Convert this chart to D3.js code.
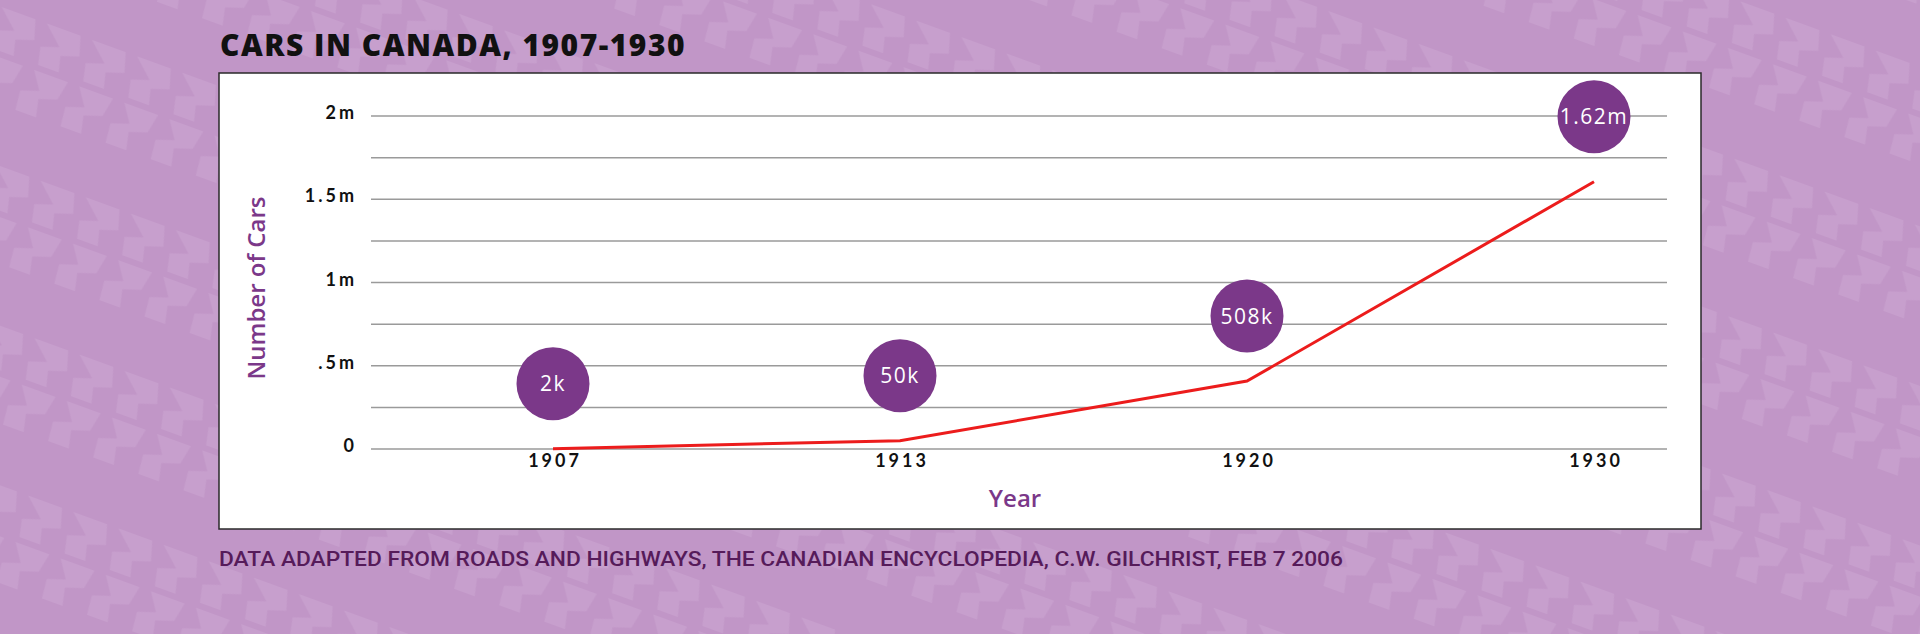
<!DOCTYPE html>
<html>
<head>
<meta charset="utf-8">
<script src="https://cdn.jsdelivr.net/npm/d3@7"></script>
<style>
  html, body { margin: 0; padding: 0; background: #c39acb; }
  svg { display: block; }
</style>
</head>
<body>
<script>
// ---- data ----
const years = ["1907", "1913", "1920", "1930"];
const cars = [2000, 50000, 408000, 1605000];
const bubbleLabels = ["2k", "50k", "508k", "1.62m"];
const yTickValues = [0, 500000, 1000000, 1500000, 2000000];
const yTickLabels = ["0", ".5m", "1m", "1.5m", "2m"];
const gridValues = [0, 250000, 500000, 750000, 1000000, 1250000, 1500000, 1750000, 2000000];
const titleText = "CARS IN CANADA, 1907-1930";
const captionText = "DATA ADAPTED FROM ROADS AND HIGHWAYS, THE CANADIAN ENCYCLOPEDIA, C.W. GILCHRIST, FEB 7 2006";

// ---- layout ----
const W = 1920, H = 634;
const panel = { x: 219, y: 73, w: 1482, h: 456 };
const grid = { x0: 371, x1: 1667 };
const purple = "#7b3889";

const svg = d3.select("body").append("svg").attr("width", W).attr("height", H);
const defs = svg.append("defs");

// background tread pattern
const pat = defs.append("pattern").attr("id", "tread")
  .attr("patternUnits", "userSpaceOnUse")
  .attr("width", 48).attr("height", 150)
  .attr("patternTransform", "rotate(20)");
pat.append("rect").attr("width", 48).attr("height", 150).attr("fill", "#c196c7");
pat.append("path").attr("d", "M4,6 L40,6 L46,26 L28,32 L32,48 L10,48 L6,30 L24,24 Z").attr("fill", "#c79fcd");
pat.append("path").attr("d", "M8,54 L44,54 L40,74 L22,80 L26,98 L4,98 L2,78 L20,72 Z").attr("fill", "#c79fcd");
svg.append("rect").attr("width", W).attr("height", H).attr("fill", "url(#tread)");

// title
svg.append("text")
  .attr("x", 220).attr("y", 56)
  .attr("font-family", "'Open Sans', 'Noto Sans', sans-serif")
  .attr("font-weight", 800).attr("font-size", 30)
  .attr("letter-spacing", "1.5px")
  .attr("textLength", 466).attr("lengthAdjust", "spacingAndGlyphs")
  .attr("fill", "#111")
  .text(titleText);

// panel
svg.append("rect")
  .attr("x", panel.x).attr("y", panel.y).attr("width", panel.w).attr("height", panel.h)
  .attr("fill", "#fff").attr("stroke", "#2a2a2a").attr("stroke-width", 1.5);

// scales
const y = d3.scaleLinear().domain([0, 2000000]).range([449, 116]);
const x = d3.scalePoint().domain(years).range([553, 1594]);

// gridlines
svg.append("g").selectAll("line").data(gridValues).join("line")
  .attr("x1", grid.x0).attr("x2", grid.x1)
  .attr("y1", d => y(d)).attr("y2", d => y(d))
  .attr("stroke", "#9a9a9a").attr("stroke-width", 1.5);

// y axis labels
const yAxis = d3.axisLeft(y).tickValues(yTickValues)
  .tickFormat((d, i) => yTickLabels[i]).tickSize(0).tickPadding(0);
const yg = svg.append("g").attr("transform", "translate(357,0)").call(yAxis);
yg.select(".domain").remove();
yg.selectAll("text")
  .attr("font-family", "Lato, 'Open Sans', sans-serif")
  .attr("font-weight", 700).attr("font-size", 18)
  .attr("letter-spacing", "3px")
  .attr("fill", "#111").attr("dy", "0.15em");

// x axis labels
const xAxis = d3.axisBottom(x).tickSize(0).tickPadding(0);
const xg = svg.append("g").attr("transform", "translate(0,449)").call(xAxis);
xg.select(".domain").remove();
xg.selectAll("text")
  .attr("font-family", "Lato, 'Open Sans', sans-serif")
  .attr("font-weight", 700).attr("font-size", 18)
  .attr("letter-spacing", "3px")
  .attr("fill", "#111").attr("dy", null).attr("y", 18)
  .attr("dx", "1.5px");

// axis titles
svg.append("text")
  .attr("x", 1015).attr("y", 507)
  .attr("text-anchor", "middle")
  .attr("font-family", "'Open Sans', sans-serif")
  .attr("font-weight", 600).attr("font-size", 24)
  .attr("fill", purple).text("Year");

svg.append("text")
  .attr("transform", "translate(265,288) rotate(-90)")
  .attr("text-anchor", "middle")
  .attr("font-family", "'Open Sans', sans-serif")
  .attr("font-weight", 600).attr("font-size", 24)
  .attr("fill", purple).text("Number of Cars");

// line
const line = d3.line().x((d, i) => x(years[i])).y(d => y(d));
svg.append("path").datum(cars)
  .attr("d", line).attr("fill", "none")
  .attr("stroke", "#ec1c1c").attr("stroke-width", 3);

// bubbles
const bubbles = svg.append("g").selectAll("g").data(cars).join("g")
  .attr("transform", (d, i) => `translate(${x(years[i])},${y(d) - 65})`);
bubbles.append("circle").attr("r", 36.5).attr("fill", purple);
bubbles.append("text")
  .attr("text-anchor", "middle").attr("dy", "0.36em")
  .attr("font-family", "'Open Sans', sans-serif")
  .attr("font-size", 21).attr("letter-spacing", "1.5px")
  .attr("fill", "#fff")
  .text((d, i) => bubbleLabels[i]);

// caption
svg.append("text")
  .attr("x", 219).attr("y", 566)
  .attr("font-family", "Roboto, 'Open Sans', sans-serif")
  .attr("font-weight", 500)
  .attr("font-size", 21)
  .attr("textLength", 1124).attr("lengthAdjust", "spacingAndGlyphs")
  .attr("fill", "#561b5a")
  .text(captionText);
</script>
</body>
</html>
